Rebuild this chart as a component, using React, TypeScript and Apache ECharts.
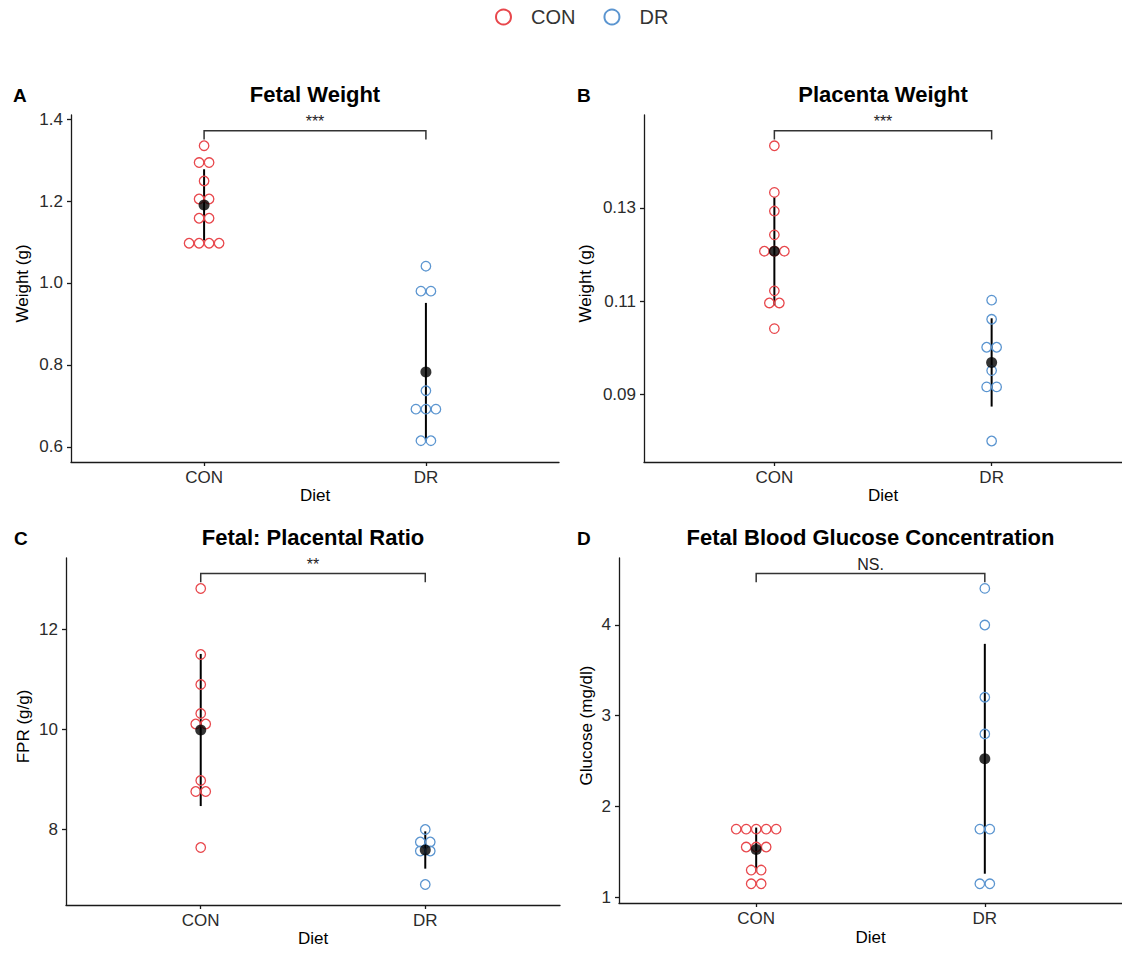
import React, { useEffect, useRef } from "react";
import * as echarts from "echarts";

// Groups on the x axis
const diets = ["CON", "DR"];

// A: fetal weight (g)
const fetalWeightCON = [1.335, 1.294, 1.294, 1.249, 1.205, 1.205, 1.158, 1.158, 1.097, 1.097, 1.097, 1.097];
const fetalWeightDR = [1.041, 0.98, 0.98, 0.737, 0.692, 0.692, 0.692, 0.615, 0.615];
const fetalWeightTicks = [0.6, 0.8, 1.0, 1.2, 1.4];

// B: placenta weight (g)
const placentaWeightCON = [0.1433, 0.1333, 0.1293, 0.1242, 0.1207, 0.1207, 0.1207, 0.1122, 0.1096, 0.1096, 0.1041];
const placentaWeightDR = [0.1102, 0.1061, 0.1001, 0.1001, 0.0951, 0.0916, 0.0916, 0.08];
const placentaWeightTicks = [0.09, 0.11, 0.13];

// C: fetal : placental ratio (g/g)
const fprCON = [12.81, 11.49, 10.89, 10.31, 10.1, 10.1, 8.97, 8.75, 8.75, 7.63];
const fprDR = [7.99, 7.74, 7.74, 7.56, 7.56, 6.89];
const fprTicks = [8, 10, 12];

// D: fetal blood glucose (mg/dl)
const glucoseCON = [1.749, 1.749, 1.749, 1.749, 1.749, 1.551, 1.551, 1.551, 1.297, 1.297, 1.146, 1.146];
const glucoseDR = [4.403, 3.999, 3.203, 2.798, 1.749, 1.749, 1.146, 1.146];
const glucoseTicks = [1, 2, 3, 4];

// Significance labels
const significance = ["***", "***", "**", "NS."];

const FONT = '"Liberation Sans", Arial, Helvetica, sans-serif';
const RED = "#E8474C";
const BLUE = "#5B95D0";
const DOT_PX = 10;
const X_MIN = 0.4;
const X_MAX = 2.6;

type Panel = {
  letter: string;
  letterX: number;
  title: string;
  yName: string;
  con: number[];
  dr: number[];
  ticks: number[];
  decimals: number;
  min: number;
  max: number;
  sig: string;
  grid: { left: number; top: number; width: number; height: number };
  yNameGap: number;
  xNameGap: number;
};

const panels: Panel[] = [
  {
    letter: "A", letterX: 13, title: "Fetal Weight", yName: "Weight (g)",
    con: fetalWeightCON, dr: fetalWeightDR, ticks: fetalWeightTicks, decimals: 1,
    min: 0.563, max: 1.41, sig: significance[0],
    grid: { left: 71, top: 115, width: 488, height: 347 }, yNameGap: 40, xNameGap: 25,
  },
  {
    letter: "B", letterX: 577, title: "Placenta Weight", yName: "Weight (g)",
    con: placentaWeightCON, dr: placentaWeightDR, ticks: placentaWeightTicks, decimals: 2,
    min: 0.0755, max: 0.1499, sig: significance[1],
    grid: { left: 644, top: 115, width: 478, height: 347 }, yNameGap: 50, xNameGap: 25,
  },
  {
    letter: "C", letterX: 14, title: "Fetal: Placental Ratio", yName: "FPR (g/g)",
    con: fprCON, dr: fprDR, ticks: fprTicks, decimals: 0,
    min: 6.48, max: 13.42, sig: significance[2],
    grid: { left: 66, top: 558, width: 494, height: 347 }, yNameGap: 34, xNameGap: 25,
  },
  {
    letter: "D", letterX: 577, title: "Fetal Blood Glucose Concentration", yName: "Glucose (mg/dl)",
    con: glucoseCON, dr: glucoseDR, ticks: glucoseTicks, decimals: 0,
    min: 0.934, max: 4.738, sig: significance[3],
    grid: { left: 619, top: 558, width: 503, height: 345 }, yNameGap: 24, xNameGap: 26,
  },
];

// Centre-stacked dot plot: equal values sit side by side around the group position
function stackDots(values: number[], center: number, step: number): number[][] {
  const counts = new Map<number, number>();
  values.forEach((v) => counts.set(v, (counts.get(v) || 0) + 1));
  const seen = new Map<number, number>();
  return values.map((v) => {
    const n = counts.get(v) || 1;
    const i = seen.get(v) || 0;
    seen.set(v, i + 1);
    return [center + (i - (n - 1) / 2) * step, v];
  });
}

function meanSd(values: number[]) {
  const m = values.reduce((a, b) => a + b, 0) / values.length;
  const v = values.reduce((a, b) => a + (b - m) * (b - m), 0) / (values.length - 1);
  return { mean: m, sd: Math.sqrt(v) };
}

function buildOption(): echarts.EChartsCoreOption {
  const grids: any[] = [];
  const xAxes: any[] = [];
  const yAxes: any[] = [];
  const series: any[] = [];
  const graphics: any[] = [];

  const axisLine = { show: true, onZero: false, lineStyle: { color: "#1a1a1a", width: 1.3 } };
  const axisTickStyle = { color: "#1a1a1a", width: 1.3 };

  panels.forEach((p, i) => {
    grids.push({ ...p.grid, containLabel: false });
    const step = (DOT_PX * (X_MAX - X_MIN)) / p.grid.width;

    xAxes.push({
      gridIndex: i, type: "value", min: X_MIN, max: X_MAX,
      name: "Diet", nameLocation: "middle", nameGap: p.xNameGap,
      nameTextStyle: { fontFamily: FONT, fontSize: 17, color: "#000" },
      axisLine,
      axisTick: { show: true, length: 4, customValues: [1, 2], lineStyle: axisTickStyle },
      axisLabel: {
        customValues: [1, 2], margin: 7, fontFamily: FONT, fontSize: 17, color: "#2b2b2b",
        formatter: (v: number) => diets[Math.round(v) - 1],
      },
      splitLine: { show: false },
    });
    yAxes.push({
      gridIndex: i, type: "value", min: p.min, max: p.max,
      name: p.yName, nameLocation: "middle", nameGap: p.yNameGap,
      nameTextStyle: { fontFamily: FONT, fontSize: 17, color: "#000", padding: [0, 0, 0, 10] },
      axisLine,
      axisTick: { show: true, length: 4, customValues: p.ticks, lineStyle: axisTickStyle },
      axisLabel: {
        customValues: p.ticks, margin: 8, fontFamily: FONT, fontSize: 17, color: "#2b2b2b",
        formatter: (v: number) => v.toFixed(p.decimals),
      },
      splitLine: { show: false },
    });

    const groups = [
      { name: "CON", values: p.con, center: 1, color: RED },
      { name: "DR", values: p.dr, center: 2, color: BLUE },
    ];

    // mean ± SD bars
    const stats = groups.map((g) => ({ x: g.center, ...meanSd(g.values) }));
    series.push({
      type: "custom", xAxisIndex: i, yAxisIndex: i, z: 2, silent: true,
      data: stats.map((s) => [s.x, s.mean - s.sd, s.mean + s.sd]),
      renderItem: (_params: any, api: any) => {
        const a = api.coord([api.value(0), api.value(1)]);
        const b = api.coord([api.value(0), api.value(2)]);
        return {
          type: "line",
          shape: { x1: a[0], y1: a[1], x2: b[0], y2: b[1] },
          style: { stroke: "#000", lineWidth: 2 },
        };
      },
    });

    // individual observations
    groups.forEach((g) => {
      series.push({
        name: g.name, type: "scatter", xAxisIndex: i, yAxisIndex: i, z: 3,
        symbol: "circle", symbolSize: 9.5,
        itemStyle: { color: "rgba(255,255,255,0)", borderColor: g.color, borderWidth: 1.3, opacity: 1 },
        data: stackDots(g.values, g.center, step),
      });
    });

    // group means
    series.push({
      type: "scatter", xAxisIndex: i, yAxisIndex: i, z: 4,
      symbol: "circle", symbolSize: 11, itemStyle: { color: "#000" },
      data: stats.map((s) => [s.x, s.mean]),
    });

    // significance bracket between the two groups
    const top = Math.max(...p.con, ...p.dr);
    const range = p.max - p.min;
    const barY = top + 0.043 * range;
    const tipY = barY - 0.025 * range;
    series.push({
      type: "custom", xAxisIndex: i, yAxisIndex: i, z: 5, silent: true, clip: false,
      data: [[1, 2, barY, tipY]],
      renderItem: (_params: any, api: any) => {
        const a = api.coord([api.value(0), api.value(3)]);
        const b = api.coord([api.value(0), api.value(2)]);
        const c = api.coord([api.value(1), api.value(2)]);
        const d = api.coord([api.value(1), api.value(3)]);
        return {
          type: "group",
          children: [
            {
              type: "polyline",
              shape: { points: [a, b, c, d] },
              style: { stroke: "#333", lineWidth: 1.5, fill: null },
            },
            {
              type: "text",
              x: (b[0] + c[0]) / 2,
              y: b[1] - 1,
              style: {
                text: p.sig, align: "center", verticalAlign: "bottom",
                fontFamily: FONT, fontSize: 16, fill: "#222",
              },
            },
          ],
        };
      },
    });

    // panel letter and title
    graphics.push({
      type: "text", x: p.letterX, y: p.grid.top - 20,
      style: { text: p.letter, fontFamily: FONT, fontSize: 19, fontWeight: "bold", fill: "#000", verticalAlign: "middle" },
    });
    graphics.push({
      type: "text", x: p.grid.left + p.grid.width / 2, y: p.grid.top - 21,
      style: {
        text: p.title, fontFamily: FONT, fontSize: 22, fontWeight: "bold", fill: "#000",
        align: "center", verticalAlign: "middle",
      },
    });
  });

  return {
    animation: false,
    backgroundColor: "#fff",
    textStyle: { fontFamily: FONT },
    legend: {
      top: 2, left: 490, itemWidth: 15, itemHeight: 15, itemGap: 28,
      icon: "circle",
      textStyle: { fontFamily: FONT, fontSize: 20, color: "#333", padding: [0, 0, 0, 15] },
      data: [
        { name: "CON", itemStyle: { color: "rgba(255,255,255,0)", borderColor: RED, borderWidth: 2 } },
        { name: "DR", itemStyle: { color: "rgba(255,255,255,0)", borderColor: BLUE, borderWidth: 2 } },
      ],
      selectedMode: false,
    },
    grid: grids,
    xAxis: xAxes,
    yAxis: yAxes,
    series,
    graphic: graphics,
  };
}

export default function App() {
  const ref = useRef<HTMLDivElement>(null);
  useEffect(() => {
    if (!ref.current) return;
    const chart = echarts.init(ref.current, null, { renderer: "svg" });
    chart.setOption(buildOption());
    return () => chart.dispose();
  }, []);
  return (
    <div
      ref={ref}
      style={{ position: "fixed", left: 0, top: 0, width: 1122, height: 953, background: "#fff" }}
    />
  );
}
